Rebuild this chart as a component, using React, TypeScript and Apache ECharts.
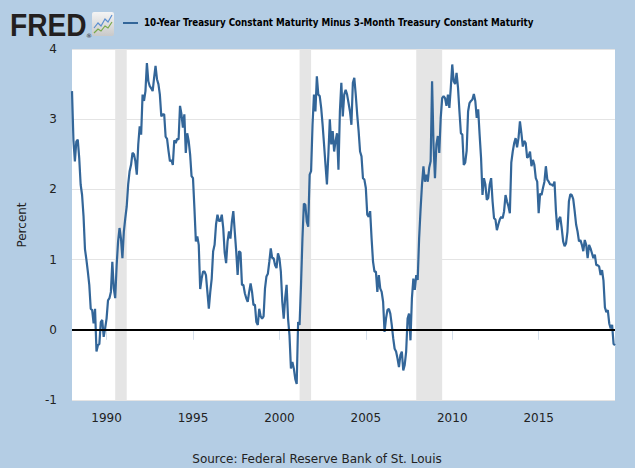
import React, { useEffect, useRef } from "react";
import * as echarts from "echarts";

// Monthly values of the spread (percent), Jan 1988 .. Jun 2019
const y1988 = [3.40, 2.70, 2.40, 2.68, 2.71, 2.45, 2.07, 1.92, 1.62, 1.15, 1.00, 0.83];
const y1989 = [0.64, 0.30, 0.28, 0.09, 0.30, -0.31, -0.22, -0.20, 0.11, 0.14, -0.10, 0.02];
const y1990 = [0.16, 0.42, 0.45, 0.54, 0.97, 0.59, 0.45, 0.92, 1.26, 1.45, 1.30, 1.02];
const y1991 = [1.40, 1.59, 1.76, 2.07, 2.26, 2.35, 2.52, 2.50, 2.40, 2.21, 2.64, 2.90];
const y1992 = [2.78, 3.35, 3.26, 3.40, 3.80, 3.54, 3.47, 3.44, 3.40, 3.59, 3.76, 3.57];
const y1993 = [3.50, 3.35, 3.04, 3.07, 3.07, 2.75, 2.72, 2.55, 2.40, 2.42, 2.35, 2.70];
const y1994 = [2.66, 2.72, 2.71, 3.19, 3.07, 2.88, 3.07, 2.52, 2.80, 2.69, 2.50, 2.19];
const y1995 = [2.16, 1.73, 1.26, 1.33, 1.21, 0.58, 0.73, 0.83, 0.83, 0.78, 0.54, 0.30];
const y1996 = [0.54, 0.73, 1.12, 1.21, 1.50, 1.64, 1.55, 1.55, 1.64, 1.45, 1.10, 0.95];
const y1997 = [1.26, 1.40, 1.30, 1.54, 1.69, 1.40, 1.12, 0.78, 1.12, 1.10, 0.64, 0.64];
const y1998 = [0.52, 0.45, 0.40, 0.54, 0.66, 0.54, 0.35, 0.36, 0.11, 0.07, 0.30, 0.19];
const y1999 = [0.16, 0.19, 0.59, 0.76, 0.80, 0.97, 1.16, 1.02, 1.02, 0.92, 0.88, 1.09];
const y2000 = [1.02, 0.83, 0.40, 0.16, 0.45, 0.64, 0.16, -0.08, -0.55, -0.46, -0.55, -0.70];
const y2001 = [-0.77, 0.11, 0.07, 0.64, 1.30, 1.80, 1.78, 1.54, 1.47, 2.21, 2.26, 2.92];
const y2002 = [3.35, 3.11, 3.61, 3.35, 3.33, 3.16, 2.92, 2.64, 2.35, 2.07, 2.50, 3.00];
const y2003 = [2.64, 2.83, 2.54, 2.69, 2.80, 2.28, 3.11, 3.52, 3.04, 3.35, 3.42, 3.35];
const y2004 = [3.23, 3.11, 2.92, 3.52, 3.59, 3.35, 3.07, 2.83, 2.54, 2.47, 2.16, 2.14];
const y2005 = [2.02, 1.64, 1.61, 1.69, 1.30, 0.97, 0.83, 0.83, 0.54, 0.78, 0.59, 0.54];
const y2006 = [0.40, -0.03, 0.16, 0.28, 0.30, 0.23, 0.07, -0.12, -0.27, -0.31, -0.41, -0.53];
const y2007 = [-0.36, -0.31, -0.58, -0.50, -0.31, 0.16, 0.23, -0.15, 0.45, 0.73, 0.57, 0.78];
const y2008 = [0.71, 1.30, 1.71, 2.07, 2.33, 2.11, 2.21, 2.11, 2.31, 2.40, 3.54, 2.64];
const y2009 = [2.16, 2.64, 2.76, 2.52, 3.02, 3.30, 3.33, 3.30, 3.19, 3.35, 3.16, 3.45];
const y2010 = [3.78, 3.54, 3.50, 3.66, 3.45, 3.11, 2.80, 2.78, 2.35, 2.38, 2.55, 3.11];
const y2011 = [3.23, 3.26, 3.28, 3.36, 3.26, 3.02, 3.14, 2.78, 2.45, 1.92, 2.16, 2.07];
const y2012 = [1.85, 1.88, 2.07, 2.16, 1.83, 1.59, 1.57, 1.42, 1.50, 1.57, 1.61, 1.59];
const y2013 = [1.69, 1.92, 1.83, 1.76, 1.66, 2.38, 2.54, 2.66, 2.73, 2.60, 2.73, 2.97];
const y2014 = [2.80, 2.61, 2.69, 2.66, 2.45, 2.47, 2.54, 2.33, 2.42, 2.35, 2.16, 2.11];
const y2015 = [1.66, 1.94, 1.92, 2.02, 2.11, 2.33, 2.14, 2.11, 2.07, 2.07, 2.05, 2.11];
const y2016 = [1.69, 1.42, 1.57, 1.61, 1.45, 1.26, 1.19, 1.23, 1.40, 1.83, 1.93, 1.92];
const y2017 = [1.86, 1.69, 1.50, 1.40, 1.26, 1.28, 1.21, 1.12, 1.28, 1.21, 1.02, 1.21];
const y2018 = [1.16, 1.09, 1.02, 1.07, 0.92, 0.92, 0.90, 0.78, 0.85, 0.70, 0.32, 0.25];
const y2019 = [0.28, 0.09, 0.02, 0.07, -0.20, -0.22];

const yearly = [
  y1988, y1989, y1990, y1991, y1992, y1993, y1994, y1995, y1996, y1997, y1998,
  y1999, y2000, y2001, y2002, y2003, y2004, y2005, y2006, y2007, y2008, y2009,
  y2010, y2011, y2012, y2013, y2014, y2015, y2016, y2017, y2018, y2019,
];
const firstYear = 1988;

const xTickYears = ["1990", "1995", "2000", "2005", "2010", "2015"];
const yMin = -1;
const yMax = 4;
const yStep = 1;

// NBER recessions (peak month .. trough month)
const recessions = [
  ["1990-07", "1991-03"],
  ["2001-03", "2001-11"],
  ["2007-12", "2009-06"],
];

const titleText =
  "10-Year Treasury Constant Maturity Minus 3-Month Treasury Constant Maturity";
const sourceText = "Source: Federal Reserve Bank of St. Louis";
const yName = "Percent";

const LINE = "#336699";

export default function App() {
  const ref = useRef<HTMLDivElement>(null);

  useEffect(() => {
    const months: string[] = [];
    const values: number[] = [];
    yearly.forEach((arr, yi) => {
      arr.forEach((v, mi) => {
        months.push(`${firstYear + yi}-${String(mi + 1).padStart(2, "0")}`);
        values.push(v);
      });
    });
    const isTick = (_i: number, val: string) =>
      val.endsWith("-01") && xTickYears.includes(val.slice(0, 4));

    const chart = echarts.init(ref.current!, null, { renderer: "svg" });
    chart.setOption({
      animation: false,
      backgroundColor: "#b4cde4",
      grid: {
        left: 72,
        right: 20,
        top: 49,
        bottom: 68,
        show: true,
        backgroundColor: "#ffffff",
        borderWidth: 0,
      },
      xAxis: {
        type: "category",
        data: months,
        boundaryGap: false,
        axisLine: { show: false },
        axisTick: {
          show: true,
          interval: isTick,
          length: 10,
          lineStyle: { color: "#d3deea", width: 1 },
        },
        axisLabel: {
          interval: isTick,
          formatter: (v: string) => v.slice(0, 4),
          color: "#222",
          fontSize: 12,
          fontFamily: "DejaVu Sans",
          margin: 12,
        },
        splitLine: { show: false },
      },
      yAxis: {
        type: "value",
        min: yMin,
        max: yMax,
        interval: yStep,
        axisLine: { show: false },
        axisTick: { show: false },
        axisLabel: {
          color: "#222",
          fontSize: 12,
          fontFamily: "DejaVu Sans",
          margin: 15,
        },
        splitLine: { lineStyle: { color: "#e4e4e4", width: 1 } },
      },
      series: [
        {
          type: "line",
          data: values,
          showSymbol: false,
          symbol: "none",
          lineStyle: { color: LINE, width: 2.2 },
          itemStyle: { color: LINE },
          markArea: {
            silent: true,
            itemStyle: { color: "#e5e5e5" },
            data: recessions.map(([a, b]) => [{ xAxis: a }, { xAxis: b }]),
          },
          markLine: {
            silent: true,
            symbol: ["none", "none"],
            label: { show: false },
            lineStyle: { color: "#000", width: 2, type: "solid" },
            data: [{ yAxis: 0 }],
          },
        },
      ],
      graphic: [
        {
          type: "text",
          x: 10,
          y: 25,
          scaleX: 0.88,
          style: {
            text: "FRED",
            font: 'bold 32px "Liberation Sans"',
            fill: "#231f20",
            textVerticalAlign: "middle",
          },
        },
        {
          type: "text",
          x: 86,
          y: 35,
          style: {
            text: "®",
            font: '6px "DejaVu Sans"',
            fill: "#231f20",
            textVerticalAlign: "middle",
          },
        },
        {
          type: "rect",
          shape: { x: 92, y: 12, width: 22, height: 24, r: 2 },
          style: {
            fill: new echarts.graphic.LinearGradient(0, 0, 0, 1, [
              { offset: 0, color: "#f4f4f4" },
              { offset: 1, color: "#c9c9c9" },
            ]),
          },
        },
        {
          type: "polyline",
          shape: { points: [[94, 28], [98, 23], [101, 26], [105, 19], [108, 22], [112, 15]] },
          style: { stroke: "#5b8fd0", lineWidth: 1.2, fill: "none" },
        },
        {
          type: "polyline",
          shape: { points: [[94, 33], [98, 29], [101, 31], [105, 26], [108, 28], [112, 22]] },
          style: { stroke: "#78a94a", lineWidth: 1.2, fill: "none" },
        },
        {
          type: "line",
          shape: { x1: 123, y1: 23, x2: 138, y2: 23 },
          style: { stroke: LINE, lineWidth: 2 },
        },
        {
          type: "text",
          x: 144,
          y: 22,
          scaleX: 0.975,
          style: {
            text: titleText,
            font: 'bold 10px "DejaVu Sans Condensed"',
            fill: "#000",
            textVerticalAlign: "middle",
          },
        },
        {
          type: "text",
          x: 22,
          y: 225,
          rotation: Math.PI / 2,
          style: {
            text: yName,
            font: '12px "DejaVu Sans"',
            fill: "#222",
            textAlign: "center",
            textVerticalAlign: "middle",
          },
        },
        {
          type: "text",
          x: 317,
          y: 459,
          style: {
            text: sourceText,
            font: '12px "DejaVu Sans"',
            fill: "#222",
            textAlign: "center",
            textVerticalAlign: "middle",
          },
        },
      ],
    });
    return () => chart.dispose();
  }, []);

  return (
    <div
      ref={ref}
      style={{ position: "absolute", left: 0, top: 0, width: 635, height: 468 }}
    />
  );
}
